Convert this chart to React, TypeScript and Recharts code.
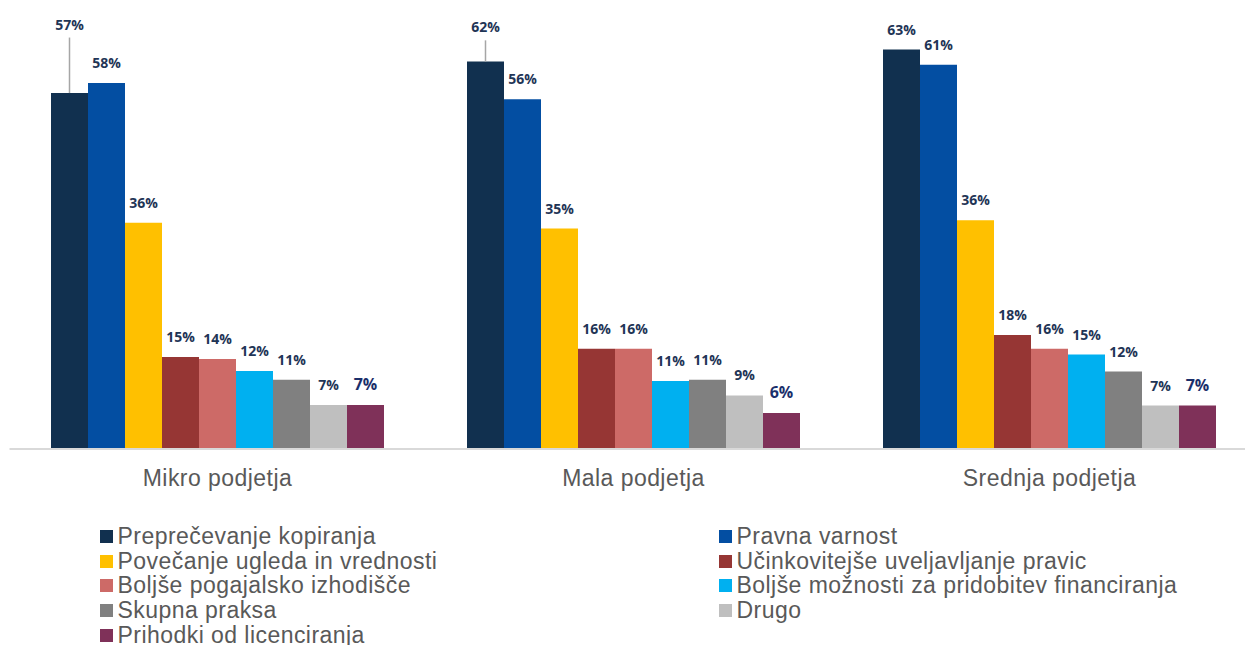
import { Bar, BarChart, LabelList, XAxis, YAxis } from "recharts";

const categories = ["Mikro podjetja", "Mala podjetja", "Srednja podjetja"];

const seriesNames = [
  "Preprečevanje kopiranja",
  "Pravna varnost",
  "Povečanje ugleda in vrednosti",
  "Učinkovitejše uveljavljanje pravic",
  "Boljše pogajalsko izhodišče",
  "Boljše možnosti za pridobitev financiranja",
  "Skupna praksa",
  "Drugo",
  "Prihodki od licenciranja",
];

const preprecevanje = [56.5, 61.5, 63.4];
const pravnaVarnost = [58.1, 55.5, 61.0];
const povecanjeUgleda = [35.9, 35.0, 36.3];
const ucinkovitejse = [14.6, 15.9, 18.1];
const pogajalsko = [14.3, 15.9, 15.9];
const financiranje = [12.4, 10.8, 15.0];
const skupnaPraksa = [11.0, 11.0, 12.3];
const drugo = [7.0, 8.5, 6.9];
const licenciranje = [7.0, 5.7, 6.9];

const seriesValues = [
  preprecevanje,
  pravnaVarnost,
  povecanjeUgleda,
  ucinkovitejse,
  pogajalsko,
  financiranje,
  skupnaPraksa,
  drugo,
  licenciranje,
];

const colors = [
  "#11304f",
  "#034ea2",
  "#ffc000",
  "#963634",
  "#cd6a67",
  "#00b0f0",
  "#808080",
  "#bfbfbf",
  "#7f3159",
];

// labels pushed above the bar with a leader line: [series]-[category] -> extra lift
const labelLift: Record<string, number> = { "0-0": 48.5, "0-1": 14.2 };

const data = categories.map((name, ci) => {
  const row: Record<string, string | number> = { name };
  seriesValues.forEach((vals, si) => {
    row[`s${si}`] = vals[ci];
  });
  return row;
});

function makeLabel(si: number) {
  return function BarLabel(props: any) {
    const { x, y, width, value, index } = props;
    const cx = x + width / 2;
    const lift = labelLift[`${si}-${index}`] ?? 0;
    const base = y - 15 - lift;
    const last = si === seriesNames.length - 1;
    return (
      <g>
        {lift > 0 && (
          <line x1={cx} x2={cx} y1={y} y2={base + 8} stroke="#a6a6a6" strokeWidth={1.5} />
        )}
        <text
          x={cx}
          y={base}
          textAnchor="middle"
          fontFamily="'Open Sans', sans-serif"
          fontWeight={700}
          fontSize={last ? 16 : 14}
          fill={last ? "#1b2f6b" : "#1f3556"}
        >
          {Math.round(value as number)}%
        </text>
      </g>
    );
  };
}

function LegendBlock() {
  return (
    <div style={{ position: "absolute", left: 0, top: 0 }}>
      {seriesNames.map((name, i) => {
        const col = i % 2;
        const row = Math.floor(i / 2);
        const left = col === 0 ? 99.5 : 718.5;
        const top = 524 + row * 24.7;
        return (
          <div
            key={name}
            style={{
              position: "absolute",
              left,
              top,
              height: 25,
              display: "flex",
              alignItems: "center",
              whiteSpace: "nowrap",
            }}
          >
            <span
              style={{
                width: 13,
                height: 13,
                background: colors[i],
                marginRight: 5,
                display: "inline-block",
              }}
            />
            <span
              style={{
                fontFamily: "'Liberation Sans', Arial, sans-serif",
                fontSize: 23,
                letterSpacing: 0.45,
                lineHeight: "25px",
                color: "#595959",
              }}
            >
              {name}
            </span>
          </div>
        );
      })}
    </div>
  );
}

export default function App() {
  return (
    <div
      style={{
        position: "absolute",
        left: 0,
        top: 0,
        width: 1245,
        height: 645,
        overflow: "hidden",
        background: "#fff",
      }}
    >
      <BarChart
        width={1260}
        height={645}
        data={data}
        margin={{ top: 8, right: 2.5, left: 9.5, bottom: 156 }}
        barCategoryGap={41.5}
        barGap={0}
      >
        <XAxis
          dataKey="name"
          height={40}
          axisLine={{ stroke: "#d9d9d9", strokeWidth: 2 }}
          tickLine={false}
          tickMargin={15}
          tick={{
            fill: "#595959",
            fontSize: 23,
            letterSpacing: 0.45,
            fontFamily: "'Liberation Sans', Arial, sans-serif",
          }}
        />
        <YAxis hide domain={[0, 70]} />
        {seriesNames.map((name, si) => (
          <Bar
            key={name}
            dataKey={`s${si}`}
            name={name}
            fill={colors[si]}
            isAnimationActive={false}
          >
            <LabelList dataKey={`s${si}`} content={makeLabel(si)} />
          </Bar>
        ))}
      </BarChart>
      <LegendBlock />
    </div>
  );
}
